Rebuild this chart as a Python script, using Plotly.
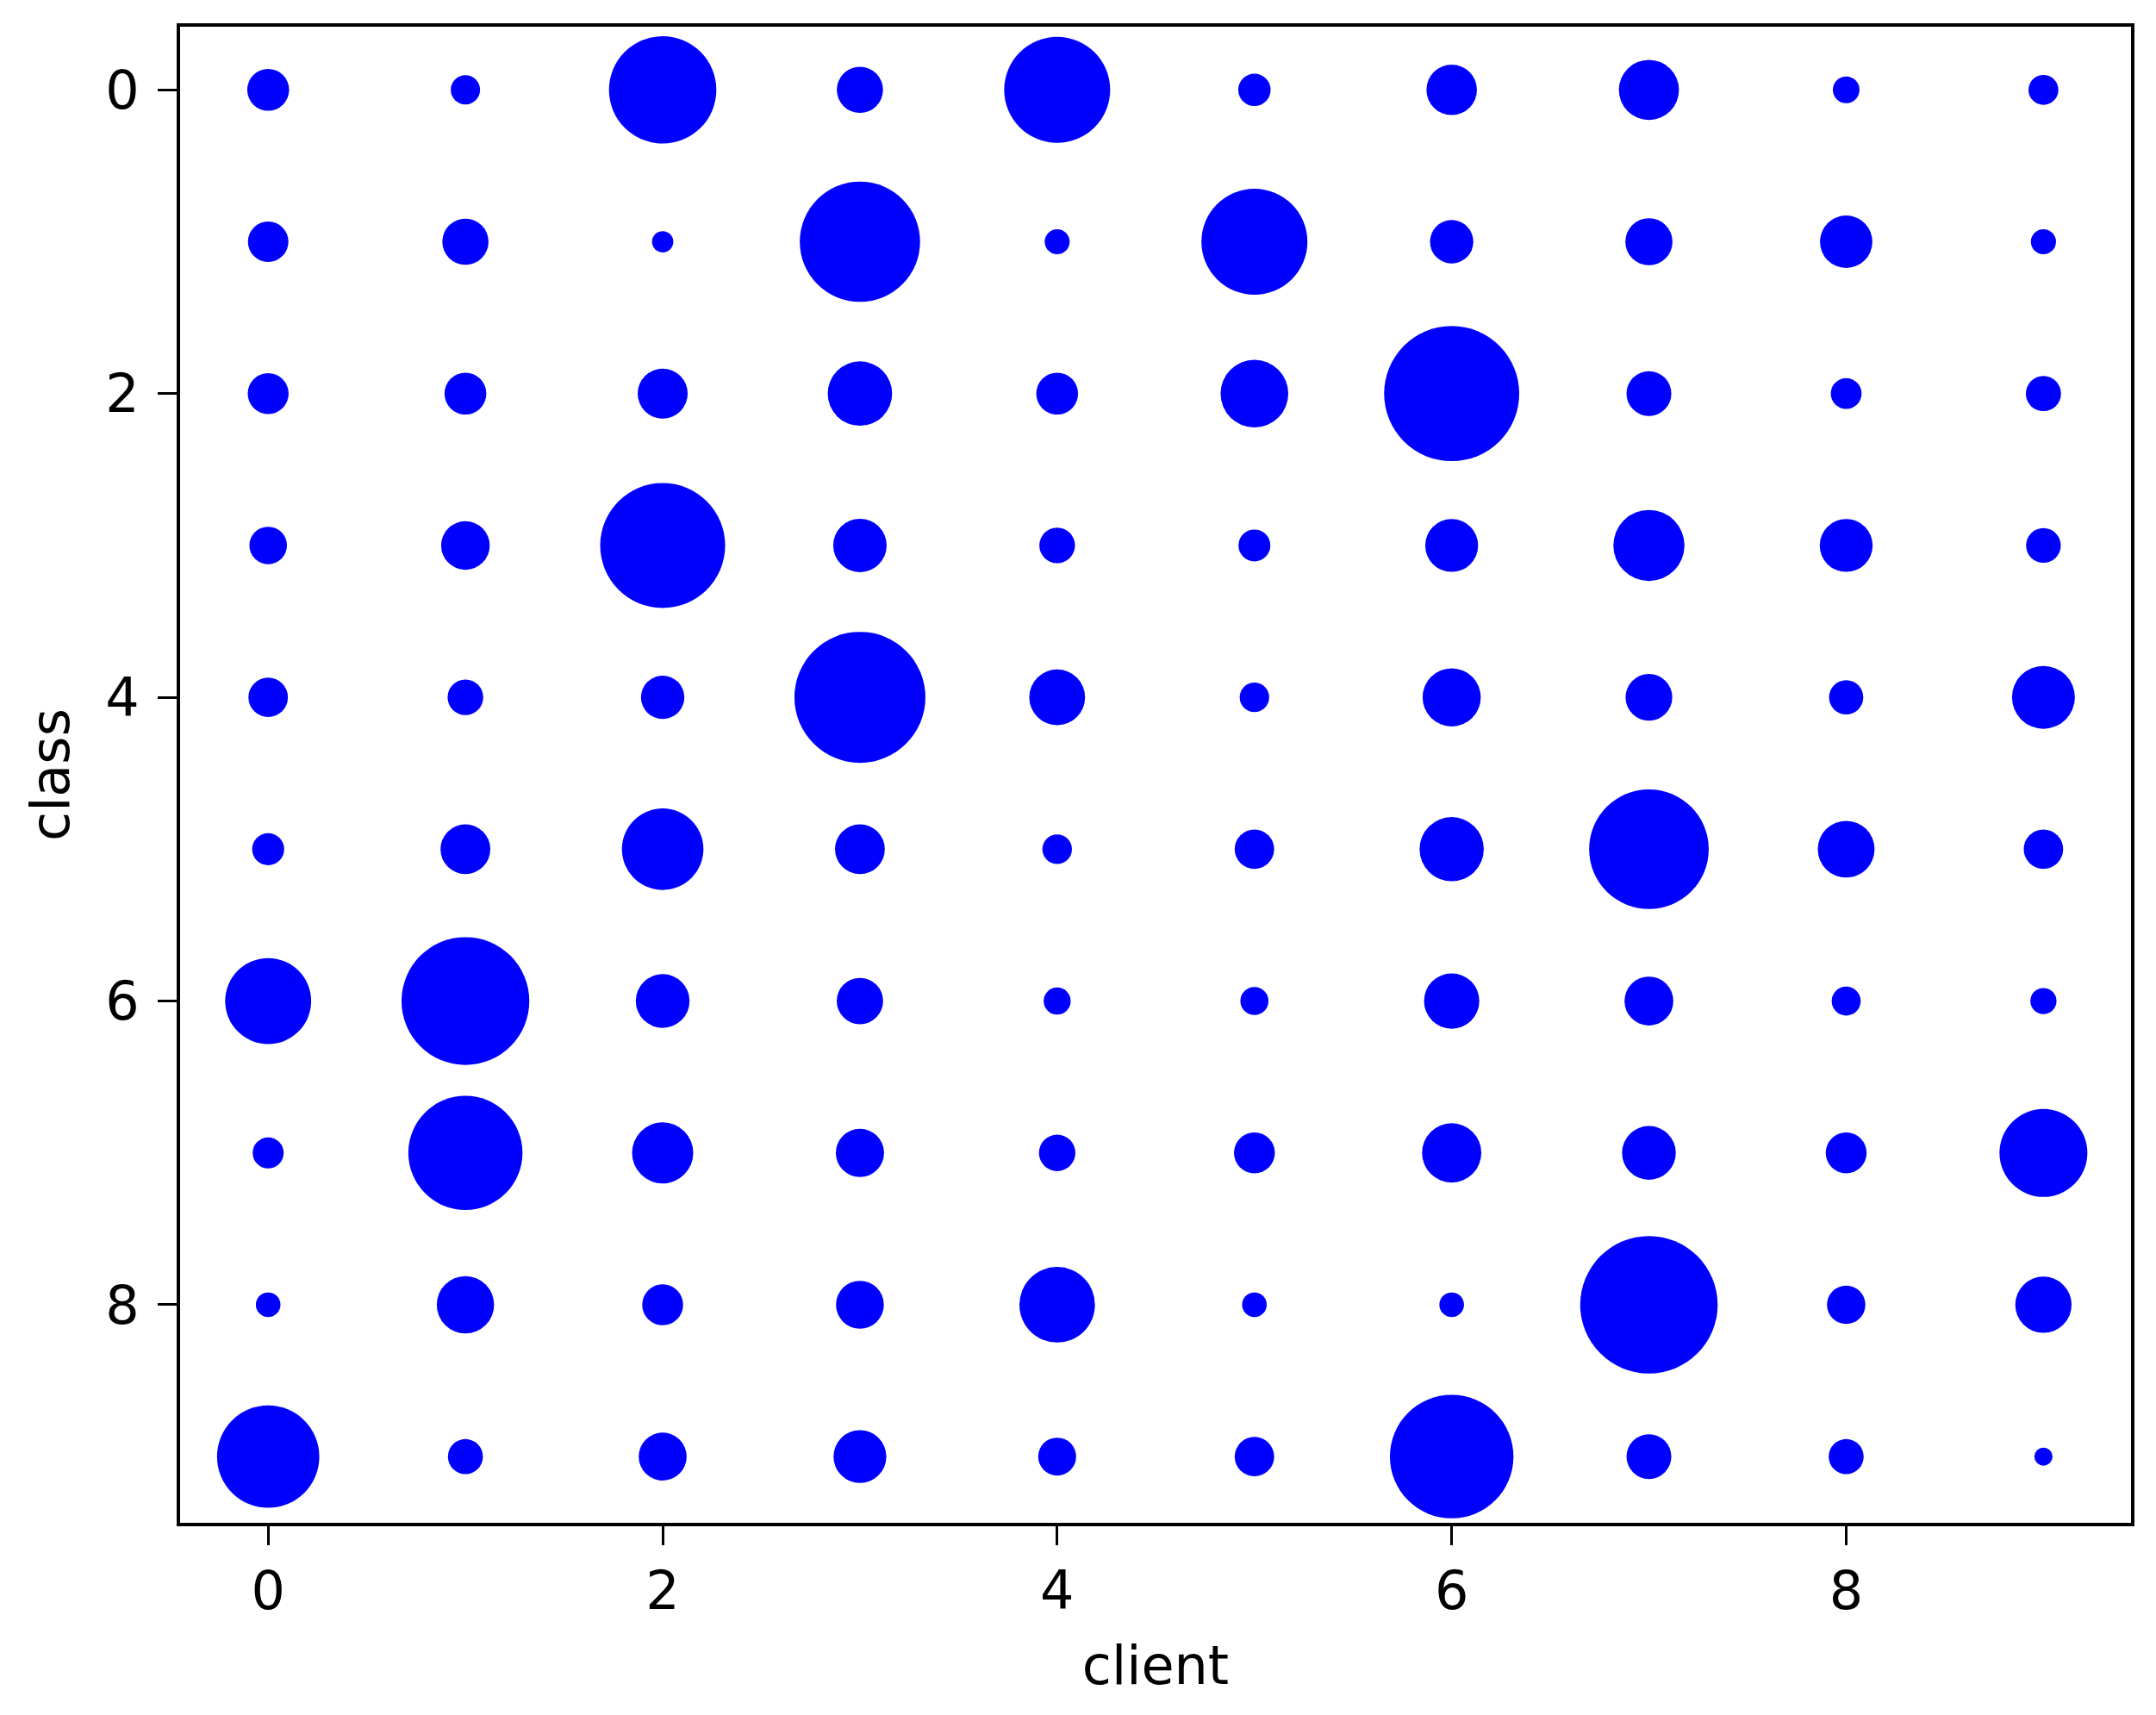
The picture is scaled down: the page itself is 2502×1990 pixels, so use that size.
import plotly.graph_objects as go

clients = list(range(10))
classes = list(range(10))

# samples per (class row, client column)
samples = [
    [590, 289, 3881, 718, 3782, 352, 858, 1215, 239, 301],
    [552, 718, 153, 4872, 210, 3782, 633, 748, 924, 213],
    [564, 590, 841, 1395, 590, 1544, 6147, 676, 320, 416],
    [475, 795, 5256, 961, 428, 342, 942, 1702, 942, 406],
    [524, 428, 633, 5776, 1047, 292, 1139, 734, 394, 1332],
    [346, 835, 2237, 835, 294, 524, 1388, 4816, 1086, 524],
    [2490, 5500, 973, 724, 246, 266, 1030, 804, 284, 230],
    [324, 4389, 1260, 784, 447, 564, 1183, 973, 564, 2601],
    [204, 1106, 564, 773, 1923, 204, 204, 6360, 497, 1066],
    [3522, 412, 773, 939, 484, 524, 5141, 676, 412, 111],
]

tick_vals = [0, 2, 4, 6, 8]
tick_text = ["0", "2", "4", "6", "8"]

xs, ys, ss = [], [], []
for r, cls in enumerate(classes):
    for c, cl in enumerate(clients):
        xs.append(cl)
        ys.append(cls)
        ss.append(samples[r][c])

fig = go.Figure(
    go.Scatter(
        x=xs, y=ys, mode="markers",
        marker=dict(size=ss, sizemode="area", sizeref=0.5, color="#0000ff",
                    opacity=1, line=dict(width=0)),
        hoverinfo="skip",
    )
)

font = dict(family="DejaVu Sans", size=62, color="black")
axis_common = dict(
    showgrid=False, zeroline=False, showline=True, linecolor="black",
    linewidth=4, mirror=True, ticks="outside", ticklen=22, tickwidth=3,
    tickcolor="black", tickfont=font, tickvals=tick_vals, ticktext=tick_text,
)

fig.update_layout(
    width=2502, height=1990,
    margin=dict(l=201, r=37, t=23, b=231),
    paper_bgcolor="white", plot_bgcolor="white",
    showlegend=False,
    font=font,
    xaxis=dict(range=[-0.4465, 9.444], title=dict(text="client", font=font, standoff=30), **axis_common),
    yaxis=dict(range=[9.436, -0.416], title=dict(text="class", font=font, standoff=22),
               ticklabelstandoff=9, **axis_common),
)

fig.write_html("out.html")
